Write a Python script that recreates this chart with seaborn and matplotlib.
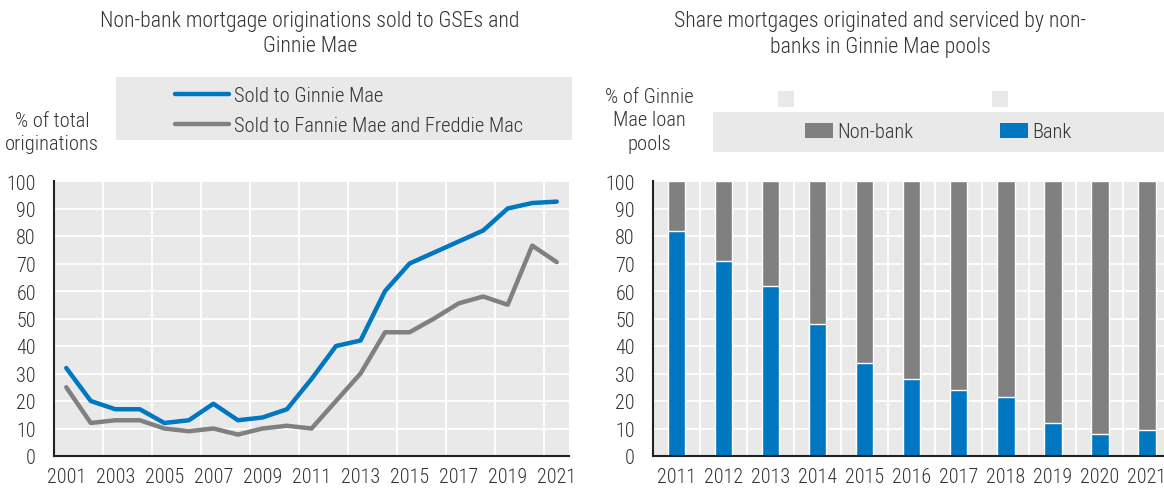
import numpy as np
import pandas as pd
import matplotlib.pyplot as plt
from matplotlib.patches import Rectangle, Patch
from matplotlib.lines import Line2D
import seaborn as sns

# Data
years = list(range(2001, 2022))
ginnie = [32, 20, 17, 17, 12, 13, 19, 13, 14, 17, 28, 40, 42, 60, 70, 74, 78, 82, 90, 92, 92.5]
fannie_freddie = [25, 12, 13, 13, 10, 9, 10, 7.8, 10, 11, 10, 20, 30, 45, 45, 50, 55.5, 58, 55, 76.5, 70.5]
line_labels = ["Sold to Ginnie Mae", "Sold to Fannie Mae and Freddie Mac"]

bar_years = list(range(2011, 2022))
bank = [82, 71, 62, 48, 34, 28, 24, 21.5, 12, 8, 9.5]
non_bank = [100 - b for b in bank]
bar_labels = ["Non-bank", "Bank"]

BLUE = "#0077C0"
GREY = "#808080"
BG = "#E9E9E9"
TXT = "#333333"
FS = 14.8
TICK_FS = 14.5
TITLE_FS = 15.7

sns.set_theme(style="white")
plt.rcParams['font.family'] = ['Roboto Condensed', 'Roboto', 'DejaVu Sans']
plt.rcParams['font.weight'] = 'light'
plt.rcParams['font.size'] = FS
plt.rcParams['text.color'] = TXT

W, H = 1164, 489
fig = plt.figure(figsize=(W / 100, H / 100), dpi=100)
ax1 = fig.add_axes([54 / W, 32 / H, 515 / W, 275 / H])
ax2 = fig.add_axes([653 / W, 32 / H, 511 / W, 275 / H])


def style_axes(ax, xmax, labels, label_pos, minor_pos):
    ax.set_facecolor(BG)
    ax.set_xlim(-0.5, xmax)
    ax.set_ylim(0, 100)
    ax.set_xticks(label_pos)
    ax.set_xticklabels(labels)
    ax.set_xticks(minor_pos, minor=True)
    ax.set_yticks(range(0, 101, 10))
    ax.tick_params(axis='x', which='major', length=0, pad=8, labelsize=TICK_FS, labelcolor=TXT)
    ax.tick_params(axis='x', which='minor', direction='in', length=6, width=1.3, color='#222222')
    ax.tick_params(axis='y', which='major', direction='in', length=8, width=1.3, color='#222222',
                   pad=13, labelsize=TICK_FS, labelcolor=TXT)
    ax.xaxis.grid(False, which='major')
    ax.xaxis.grid(True, which='minor', color='white', lw=1.3)
    ax.yaxis.grid(True, which='major', color='white', lw=1.3)
    ax.set_axisbelow(True)
    for s in ['top', 'right']:
        ax.spines[s].set_visible(False)
    for s in ['left', 'bottom']:
        ax.spines[s].set_color('#222222')
        ax.spines[s].set_linewidth(1.5)
    ax.set_xlabel('')
    ax.set_ylabel('')


# Left panel: lines
df = pd.DataFrame({
    'idx': list(range(len(years))) * 2,
    'value': ginnie + fannie_freddie,
    'series': [line_labels[0]] * len(years) + [line_labels[1]] * len(years),
})
sns.lineplot(data=df, x='idx', y='value', hue='series', hue_order=line_labels[::-1],
             palette=[GREY, BLUE], linewidth=3.2, legend=False, ax=ax1,
             solid_joinstyle='round', solid_capstyle='round')
style_axes(ax1, len(years) - 0.5, years[::2],
           list(range(0, len(years), 2)), list(np.arange(1.5, len(years) - 1, 2)))

# Right panel: stacked bars
total = [b + nb for b, nb in zip(bank, non_bank)]
sns.barplot(x=bar_years, y=total, color=GREY, saturation=1, width=0.38, ax=ax2)
sns.barplot(x=bar_years, y=bank, color=BLUE, saturation=1, width=0.38, ax=ax2)
style_axes(ax2, 10.37, bar_years,
           list(range(len(bar_years))), list(np.arange(0.5, len(bar_years) - 1, 1)))

# Titles and axis notes
fig.text(310 / W, 1 - 34.5 / H, "Non-bank mortgage originations sold to GSEs and\nGinnie Mae",
         ha='center', va='center', linespacing=1.25, fontsize=TITLE_FS)
fig.text(880 / W, 1 - 34.5 / H, "Share mortgages originated and serviced by non-\nbanks in Ginnie Mae pools",
         ha='center', va='center', linespacing=1.25, fontsize=TITLE_FS)
fig.text(52 / W, 1 - 133 / H, "% of total\noriginations", ha='center', va='center', linespacing=1.25)
fig.text(649 / W, 1 - 121 / H, "% of Ginnie\nMae loan\npools", ha='center', va='center', linespacing=1.3)

# Legend backgrounds
fig.add_artist(Rectangle((116 / W, 1 - 141 / H), 456 / W, 63 / H, transform=fig.transFigure,
                         facecolor=BG, edgecolor='none', zorder=0))
fig.add_artist(Rectangle((713 / W, 1 - 153 / H), 451 / W, 40 / H, transform=fig.transFigure,
                         facecolor=BG, edgecolor='none', zorder=0))
for x0 in (778, 992):
    fig.add_artist(Rectangle((x0 / W, 1 - 108 / H), 16 / W, 16 / H, transform=fig.transFigure,
                             facecolor=BG, edgecolor='none', zorder=0))

line_handles = [Line2D([], [], color=BLUE, lw=3.2, solid_capstyle='round'),
                Line2D([], [], color=GREY, lw=3.2, solid_capstyle='round')]
fig.legend(line_handles, line_labels, loc='upper left', bbox_to_anchor=(175 / W, 1 - 87 / H),
           frameon=False, borderpad=0, borderaxespad=0, handlelength=2.65, handletextpad=0.2,
           labelspacing=0.55, fontsize=FS, labelcolor=TXT)

for x0, col, lab in [(805, GREY, bar_labels[0]), (1000, BLUE, bar_labels[1])]:
    fig.legend([Patch(facecolor=col, edgecolor='none')], [lab], loc='center left',
               bbox_to_anchor=(x0 / W, 1 - 133 / H), frameon=False, borderpad=0,
               borderaxespad=0, handlelength=1.37, handleheight=0.75, handletextpad=0.2,
               fontsize=FS, labelcolor=TXT)

fig.savefig('out.png', dpi=100)
